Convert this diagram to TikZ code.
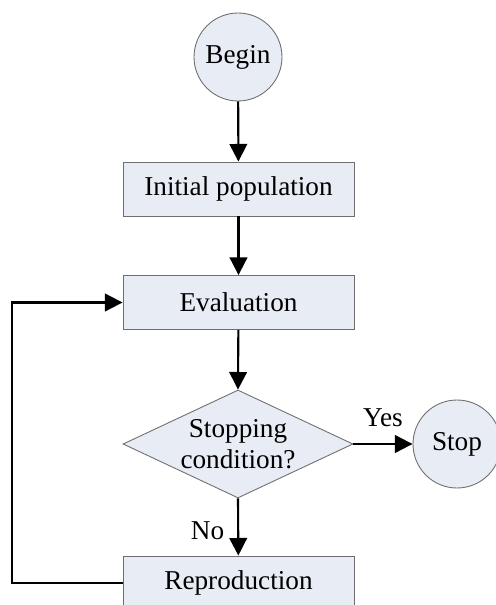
\documentclass[tikz,border=0pt]{standalone}
\usepackage{fontspec}
\setmainfont{Liberation Serif}
\usetikzlibrary{shapes.geometric,arrows.meta}
\definecolor{boxfill}{RGB}{232,236,244}
\definecolor{boxline}{RGB}{110,110,110}

\begin{document}
\begin{tikzpicture}[font=\fontsize{15.5}{18}\selectfont,
                    flow/.style={-{Triangle[length=10pt,width=10pt]},line width=1.2pt}]
            \useasboundingbox (0,0) rectangle (9.9,-12.1);

            \begin{scope}[every node/.style={circle,draw=boxline,fill=boxfill,line width=0.5pt,minimum size=1.76cm,inner sep=0pt}]
                \node (begin) at (4.76,-1.14) {Begin};
                \node (stop) at (9.14,-8.88) {Stop};
            \end{scope}

            \begin{scope}[every node/.style={rectangle,draw=boxline,fill=boxfill,line width=0.5pt,minimum width=4.62cm,minimum height=1.08cm}]
                \node (init) at (4.77,-3.78) {Initial population};
                \node (eval) at (4.77,-6.05) {Evaluation};
                \node (repro) at (4.77,-11.66) {Reproduction};
            \end{scope}

            \node [diamond,draw=boxline,fill=boxfill,line width=0.5pt,minimum width=4.6cm,minimum height=2.16cm,inner sep=0pt] (cond) at (4.76,-8.88) {};
            \node [align=center] (condtext) at (cond) {Stopping\\condition?};
            \coordinate (loop) at (0.24,-11.66);

            \begin{scope}
                \draw [flow] (begin) -- (init);
                \draw [flow] (init) -- (eval);
                \draw [flow] (eval) -- (cond.north);
                \draw [flow] (cond.east) -- node [above=6pt] {Yes} (stop);
                \draw [flow] (cond.south) -- node [left=4pt,yshift=-2pt] {No} (repro);
                \draw [flow] (repro.west) -- (loop) |- (eval.west);
            \end{scope}
            \end{tikzpicture}
\end{document}
